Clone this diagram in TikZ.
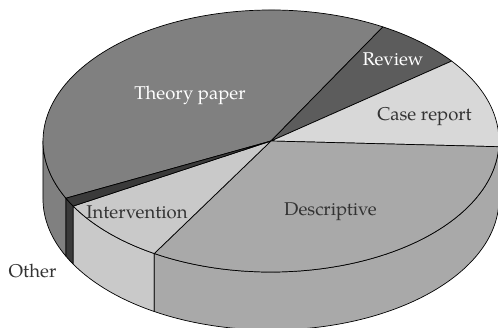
\documentclass[tikz,border=0pt]{standalone}
\usepackage{fontspec}
\setmainfont{TeX Gyre Pagella}
\definecolor{cTheory}{HTML}{808080}
\definecolor{cReview}{HTML}{5C5C5C}
\definecolor{cCase}{HTML}{D8D8D8}
\definecolor{cDesc}{HTML}{A9A9A9}
\definecolor{cInter}{HTML}{C9C9C9}
\definecolor{cOther}{HTML}{3A3A3A}
\definecolor{ctext}{HTML}{333333}
\tikzset{
  edge/.style={draw=black,line width=0.7pt,line join=round},
  lbl/.style={anchor=base,inner sep=0pt,font=\fontsize{18.5}{22}\selectfont},
}
\newcommand\RX{228}
\newcommand\RY{131}
\newcommand\DP{58}
\newcommand\pieside[3]{%
  \path[edge,fill=#3] ({\RX*cos(#1)},{\RY*sin(#1)}) arc[start angle=#1,end angle=#2,x radius=\RX,y radius=\RY]
    -- ++(0,-\DP) arc[start angle=#2,end angle=#1,x radius=\RX,y radius=\RY] -- cycle;}
\newcommand\pietop[3]{%
  \path[edge,fill=#3] (0,0) -- ({\RX*cos(#1)},{\RY*sin(#1)}) arc[start angle=#1,end angle=#2,x radius=\RX,y radius=\RY] -- cycle;}
\begin{document}
\begin{tikzpicture}[x=1pt,y=1pt]
\useasboundingbox (-271,-186) rectangle (227,141);
% sides
\pieside{180}{205.9}{cTheory}
\pieside{205.9}{209.8}{cOther}
\pieside{209.8}{239.2}{cInter}
\pieside{239.2}{357.5}{cDesc}
\pieside{357.5}{360}{cCase}
% tops
\pietop{60.6}{205.9}{cTheory}
\pietop{37.6}{60.6}{cReview}
\pietop{-2.5}{37.6}{cCase}
\pietop{239.2}{357.5}{cDesc}
\pietop{209.8}{239.2}{cInter}
\pietop{205.9}{209.8}{cOther}
% labels
\node[lbl,text=white] (theory) at (-81,42) {Theory paper};
\node[lbl,text=white] (review) at (122,76) {Review};
\node[lbl,text=ctext] (case) at (153.5,21) {Case report};
\node[lbl,text=ctext] (desc) at (59.5,-74) {Descriptive};
\node[lbl,text=ctext] (inter) at (-134,-77) {Intervention};
\node[lbl,text=ctext] (other) at (-238.5,-136) {Other};
\end{tikzpicture}
\end{document}
